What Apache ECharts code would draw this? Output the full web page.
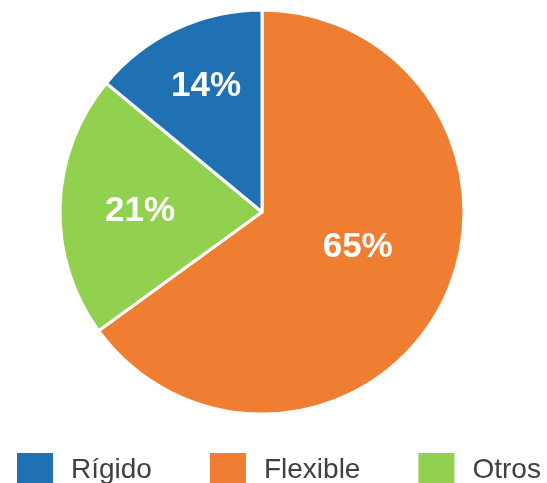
<!DOCTYPE html>
<html><head><meta charset="utf-8">
<script src="https://cdn.jsdelivr.net/npm/echarts@6/dist/echarts.min.js"></script>
<style>html,body{margin:0;padding:0;background:#fff}#c{width:547px;height:483px}</style>
</head><body><div id="c"></div>
<script>
const categories = ["Flexible", "Otros", "Rígido"];
const values = [65, 21, 14];
const legendOrder = ["Rígido", "Flexible", "Otros"];
const colors = {"Flexible": "#f07e32", "Otros": "#92d050", "Rígido": "#1f71b4"};
// label placement inside each slice: fraction of radius and angle (deg, clockwise from top)
const labelRadiusRatio = {"Flexible": 0.488, "Otros": 0.589, "Rígido": 0.67};
const labelAngle = {"Flexible": 109.3, "Otros": 270.7, "Rígido": 336.2};

const total = values.reduce((a, b) => a + b, 0);
const R = 202;
const chart = echarts.init(document.getElementById('c'), null, {renderer: 'canvas'});
chart.setOption({
  animation: false,
  legend: {
    data: legendOrder,
    left: 17, top: 453, padding: 0,
    icon: 'rect', itemWidth: 36, itemHeight: 34, itemGap: 58,
    itemStyle: {borderWidth: 0},
    textStyle: {fontFamily: 'Liberation Sans', fontSize: 28, color: '#404040', padding: [0, 0, 0, 13]}
  },
  series: [{
    type: 'pie',
    center: [262, 212],
    radius: R,
    startAngle: 90,
    clockwise: true,
    data: categories.map((c, i) => ({name: c, value: values[i], itemStyle: {color: colors[c]}})),
    itemStyle: {borderColor: '#fff', borderWidth: 3},
    label: {
      position: 'inside',
      formatter: p => Math.round(p.percent) + '%',
      fontFamily: 'Liberation Sans', fontWeight: 'bold', fontSize: 35, color: '#fff'
    },
    labelLine: {show: false},
    labelLayout: function (p) {
      const i = p.dataIndex;
      let before = 0;
      for (let k = 0; k < i; k++) before += values[k];
      const mid = (before + values[i] / 2) / total * 2 * Math.PI;
      const c = categories[i];
      const a = labelAngle[c] * Math.PI / 180;
      const r = labelRadiusRatio[c] * R;
      return {
        dx: r * Math.sin(a) - 0.5 * R * Math.sin(mid),
        dy: -r * Math.cos(a) + 0.5 * R * Math.cos(mid) + 1
      };
    }
  }]
});
</script></body></html>
